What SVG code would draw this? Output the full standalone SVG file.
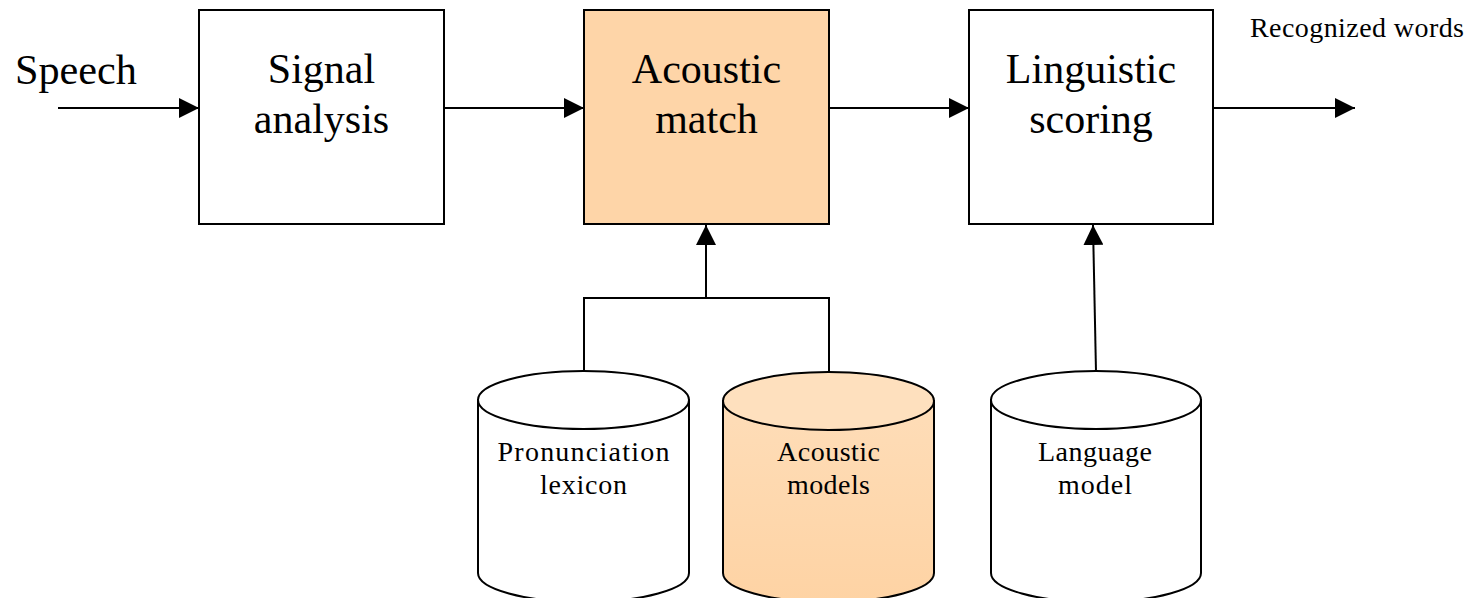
<svg xmlns="http://www.w3.org/2000/svg" width="1476" height="598" viewBox="0 0 1476 598">
<style>
.box{fill:#ffffff;stroke:#000;stroke-width:2}
.hot{fill:#FED5A8}
.t{font-family:"Liberation Serif","Times New Roman",serif;fill:#000;text-anchor:middle}
.big{font-size:42px}
.sm{font-size:28px}
.ln{fill:none;stroke:#000;stroke-width:2}
</style>
<defs>
<marker id="ah" markerUnits="userSpaceOnUse" markerWidth="20" markerHeight="20" refX="20" refY="10" orient="auto">
<path d="M0,0 L20,10 L0,20 Z" fill="#000"/>
</marker>
<linearGradient id="peach" x1="0" y1="0" x2="0" y2="1">
<stop offset="0" stop-color="#FEDDB8"/>
<stop offset="1" stop-color="#FED3A4"/>
</linearGradient>
</defs>

<g id="connectors">
<line class="ln" x1="58" y1="108" x2="199" y2="108" marker-end="url(#ah)"/>
<line class="ln" x1="444" y1="108" x2="584" y2="108" marker-end="url(#ah)"/>
<line class="ln" x1="829" y1="108" x2="969" y2="108" marker-end="url(#ah)"/>
<line class="ln" x1="1213" y1="108" x2="1355" y2="108" marker-end="url(#ah)"/>
<polyline class="ln" points="584,371 584,298 829,298 829,372"/>
<line class="ln" x1="706" y1="298" x2="706" y2="225" marker-end="url(#ah)"/>
<line class="ln" x1="1096" y1="372" x2="1093" y2="225" marker-end="url(#ah)"/>
</g>

<g id="speech">
<text class="t" x="76" y="84" style="font-size:42px" textLength="122" lengthAdjust="spacingAndGlyphs">Speech</text>
</g>

<g id="signal-analysis">
<rect class="box" x="199" y="10" width="245" height="214"/>
<text class="t big" x="321.5" y="83">Signal</text>
<text class="t big" x="321.5" y="133">analysis</text>
</g>

<g id="acoustic-match">
<rect class="box hot" x="584" y="10" width="245" height="214"/>
<text class="t big" x="706.5" y="83">Acoustic</text>
<text class="t big" x="706.5" y="133">match</text>
</g>

<g id="linguistic-scoring">
<rect class="box" x="969" y="10" width="244" height="214"/>
<text class="t big" x="1091" y="83">Linguistic</text>
<text class="t big" x="1091" y="133">scoring</text>
</g>

<g id="recognized-words">
<text class="t" x="1357" y="37" style="font-size:28px" textLength="214" lengthAdjust="spacing">Recognized words</text>
</g>

<g id="pronunciation-lexicon">
<path class="box" d="M478,400 L478,573 A105.5,29 0 0 0 689,573 L689,400 Z"/>
<ellipse class="box" cx="583.5" cy="400" rx="105.5" ry="29"/>
<text class="t sm" x="583.5" y="461" textLength="172" lengthAdjust="spacing">Pronunciation</text>
<text class="t sm" x="583.5" y="494" textLength="87" lengthAdjust="spacing">lexicon</text>
</g>

<g id="acoustic-models">
<path class="box" style="fill:url(#peach)" d="M723,401 L723,573 A105.5,29 0 0 0 934,573 L934,401 Z"/>
<ellipse class="box" style="fill:#FEE0BE" cx="828.5" cy="401" rx="105.5" ry="29"/>
<text class="t sm" x="828.5" y="461" textLength="103" lengthAdjust="spacing">Acoustic</text>
<text class="t sm" x="828.5" y="494" textLength="83" lengthAdjust="spacing">models</text>
</g>

<g id="language-model">
<path class="box" d="M991,400 L991,573 A105,29 0 0 0 1201,573 L1201,400 Z"/>
<ellipse class="box" cx="1096" cy="400" rx="105" ry="29"/>
<text class="t sm" x="1095" y="461" textLength="114" lengthAdjust="spacing">Language</text>
<text class="t sm" x="1095" y="494" textLength="74" lengthAdjust="spacing">model</text>
</g>
</svg>
